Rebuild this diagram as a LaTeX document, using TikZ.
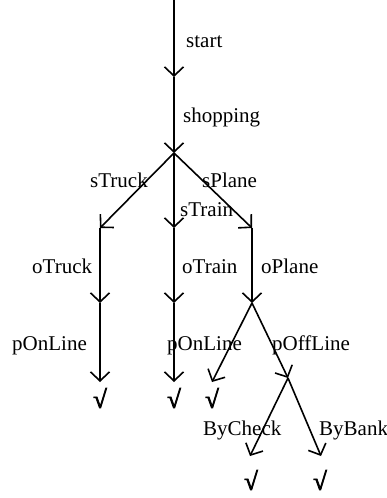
\documentclass[tikz,border=0pt]{standalone}
\usepackage{fontspec}
\setmainfont{Liberation Serif}
\newfontfamily\chkfont[FakeBold=3]{Liberation Serif}
\usetikzlibrary{arrows.meta}
\begin{document}
\begin{tikzpicture}[x=1pt,y=-1pt,
  edge/.style={line width=1.6pt, -{Straight Barb[length=9pt,width=19pt]}},
  lbl/.style={font=\fontsize{21}{25}\selectfont, inner sep=0pt, anchor=base west},
  tick/.style={font=\fontsize{25}{29}\chkfont, inner sep=0pt},
  pt/.style={coordinate}]
\useasboundingbox (0,0) rectangle (387,498);
% points
\node[pt] (top) at (174,0) {};
\node[pt] (a1) at (174,77) {};
\node[pt] (j1) at (174,153) {};
\node[pt] (t1) at (100,228) {};
\node[pt] (m1) at (174,228) {};
\node[pt] (p1) at (252,228) {};
\node[pt] (t2) at (100,303) {};
\node[pt] (m2) at (174,303) {};
\node[pt] (p2) at (252,303) {};
\node[pt] (t3) at (100,382) {};
\node[pt] (m3) at (174,382) {};
\node[pt] (q1) at (212,382) {};
\node[pt] (q2) at (288,378) {};
\node[pt] (r1) at (250,456) {};
\node[pt] (r2) at (321,456) {};
% edges
\draw[edge] (top) -- (a1);
\draw[edge] (a1) -- (j1);
\draw[edge] (j1) -- (t1);
\draw[edge] (j1) -- (m1);
\draw[edge] (j1) -- (p1);
\draw[edge] (t1) -- (t2);
\draw[edge] (m1) -- (m2);
\draw[edge] (p1) -- (p2);
\draw[edge] (t2) -- (t3);
\draw[edge] (m2) -- (m3);
\draw[edge] (p2) -- (q1);
\draw[edge] (p2) -- (q2);
\draw[edge] (q2) -- (r1);
\draw[edge] (q2) -- (r2);
% labels
\node[lbl] (lstart) at (186,47) {start};
\node[lbl] (lshop) at (183,122) {shopping};
\node[lbl] (lstruck) at (90,187) {sTruck};
\node[lbl] (lsplane) at (202,187) {sPlane};
\node[lbl] (lstrain) at (180,216) {sTrain};
\node[lbl] (lotruck) at (32,273) {oTruck};
\node[lbl] (lotrain) at (182,273) {oTrain};
\node[lbl] (loplane) at (261,273) {oPlane};
\node[lbl] (lpon1) at (12,350) {pOnLine};
\node[lbl] (lpon2) at (167,350) {pOnLine};
\node[lbl] (lpoff) at (272,350) {pOffLine};
\node[lbl] (lcheck) at (203,435) {ByCheck};
\node[lbl] (lbank) at (319,435) {ByBank};
% ticks
\node[tick] (c1) at (100,398) {√};
\node[tick] (c2) at (174,398) {√};
\node[tick] (c3) at (212,398) {√};
\node[tick] (c4) at (251,480) {√};
\node[tick] (c5) at (320,480) {√};
\end{tikzpicture}
\end{document}
